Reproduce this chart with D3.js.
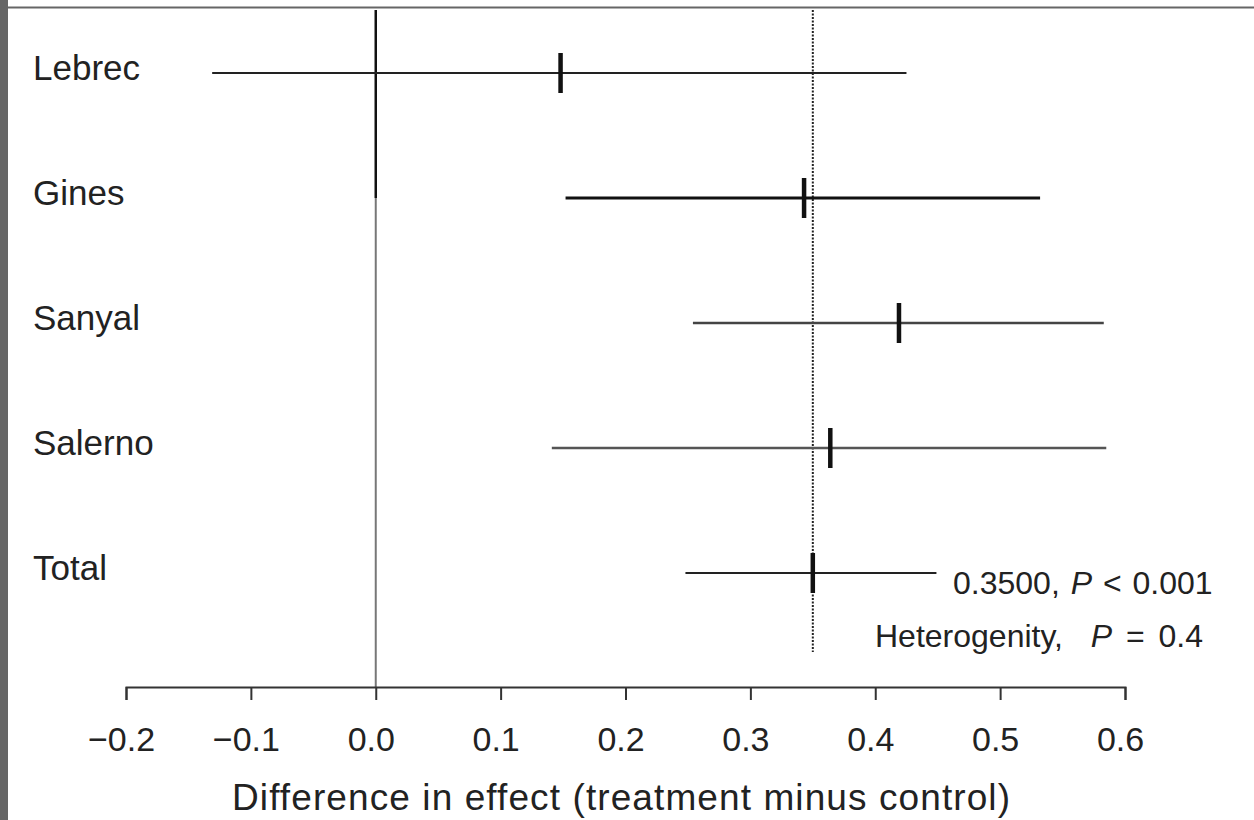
<!DOCTYPE html>
<html>
<head>
<meta charset="utf-8">
<script src="https://cdn.jsdelivr.net/npm/d3@7"></script>
<style>
  body { margin: 0; background: #fff; }
  svg { display: block; font-family: "Liberation Sans", Arial, Helvetica, sans-serif; }
</style>
</head>
<body>
<div id="chart"></div>
<script>
// Data
const studies = ['Lebrec', 'Gines', 'Sanyal', 'Salerno', 'Total'];
const estimates = [0.148, 0.343, 0.419, 0.364, 0.350];
const lowers = [-0.131, 0.152, 0.254, 0.141, 0.248];
const uppers = [0.425, 0.532, 0.583, 0.585, 0.449];
const lineColors = ['#222', '#111', '#444', '#555', '#222'];
const lineWidths = [2, 3, 2.5, 2.5, 2];
const pooled = 0.35;
const xTicks = [-0.2, -0.1, 0.0, 0.1, 0.2, 0.3, 0.4, 0.5, 0.6];

const width = 1254, height = 820;

const svg = d3.select('#chart').append('svg')
    .attr('width', width)
    .attr('height', height);

// frame bits from the scanned page
svg.append('rect').attr('x', 0).attr('y', 0).attr('width', 8).attr('height', height).attr('fill', '#666');
svg.append('line').attr('x1', 8).attr('x2', width).attr('y1', 7.5).attr('y2', 7.5)
    .attr('stroke', '#666').attr('stroke-width', 2);

const x = d3.scaleLinear().domain([-0.2, 0.6]).range([126, 1125]);
const y = d3.scalePoint().domain(studies).range([73, 573]);
const axisY = 687;

// no-effect line
svg.append('line')
    .attr('x1', x(0)).attr('x2', x(0))
    .attr('y1', 10).attr('y2', y('Gines'))
    .attr('stroke', '#111').attr('stroke-width', 2.5);
svg.append('line')
    .attr('x1', x(0)).attr('x2', x(0))
    .attr('y1', y('Gines')).attr('y2', axisY)
    .attr('stroke', '#777').attr('stroke-width', 2);

// pooled estimate, dotted
svg.append('line')
    .attr('x1', x(pooled)).attr('x2', x(pooled))
    .attr('y1', 10).attr('y2', 652)
    .attr('stroke', '#222').attr('stroke-width', 2)
    .attr('stroke-dasharray', '2,1.5');

// confidence intervals
const rows = studies.map((s, i) => ({
    name: s, est: estimates[i], lo: lowers[i], hi: uppers[i],
    color: lineColors[i], w: lineWidths[i]
}));

svg.selectAll('line.ci').data(rows).enter().append('line')
    .attr('class', 'ci')
    .attr('x1', d => x(d.lo)).attr('x2', d => x(d.hi))
    .attr('y1', d => y(d.name)).attr('y2', d => y(d.name))
    .attr('stroke', d => d.color).attr('stroke-width', d => d.w);

svg.selectAll('line.est').data(rows).enter().append('line')
    .attr('class', 'est')
    .attr('x1', d => x(d.est)).attr('x2', d => x(d.est))
    .attr('y1', d => y(d.name) - 20).attr('y2', d => y(d.name) + 20)
    .attr('stroke', '#111').attr('stroke-width', 4.5);

// study labels
svg.selectAll('text.study').data(rows).enter().append('text')
    .attr('class', 'study')
    .attr('x', 33).attr('y', d => y(d.name) + 7)
    .attr('font-size', 35).attr('fill', '#222')
    .text(d => d.name);

// annotations
const a1 = svg.append('text').attr('x', 953).attr('y', 594)
    .attr('font-size', 32).attr('fill', '#222').attr('word-spacing', 2);
a1.append('tspan').text('0.3500, ');
a1.append('tspan').attr('font-style', 'italic').text('P');
a1.append('tspan').text(' < 0.001');

const a2 = svg.append('text').attr('x', 875).attr('y', 647)
    .attr('font-size', 32).attr('fill', '#222').attr('word-spacing', 5);
a2.append('tspan').text('Heterogenity,\u00a0\u00a0');
a2.append('tspan').attr('font-style', 'italic').text('P');
a2.append('tspan').text(' = 0.4');

// x axis
const axis = svg.append('g')
    .attr('transform', `translate(0,${axisY})`)
    .call(d3.axisBottom(x).tickValues(xTicks).tickSize(13).tickPadding(27)
        .tickFormat(d => d3.format('.1f')(d).replace('-', '\u2013')));
axis.select('.domain').attr('stroke', '#333').attr('stroke-width', 2);
axis.selectAll('.tick line').attr('stroke', '#333').attr('stroke-width', 2);
axis.selectAll('.tick text')
    .attr('font-size', 34).attr('fill', '#222').attr('dx', -5)
    .attr('font-family', '"Liberation Sans", Arial, sans-serif');

svg.append('text')
    .attr('x', 232).attr('y', 810)
    .attr('font-size', 37).attr('fill', '#222')
    .attr('textLength', 778).attr('lengthAdjust', 'spacing')
    .text('Difference in effect (treatment minus control)');
</script>
</body>
</html>
